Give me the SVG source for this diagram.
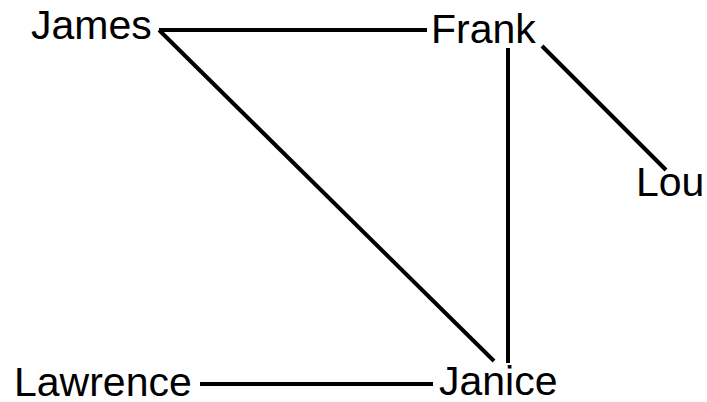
<svg xmlns="http://www.w3.org/2000/svg" width="707" height="402" viewBox="0 0 707 402">
<style>
text{font-family:"Liberation Sans",Arial,sans-serif;font-size:41px;fill:#000}
.e{stroke:#000;stroke-width:4;fill:none}
</style>
<rect width="707" height="402" fill="#fff"/>
<g id="edges">
<line class="e" x1="159" y1="30" x2="427" y2="30"/>
<line class="e" x1="159" y1="30" x2="494" y2="361"/>
<line class="e" x1="508" y1="48" x2="508" y2="363"/>
<line class="e" x1="542" y1="46" x2="666" y2="170"/>
<line class="e" x1="200" y1="384" x2="433" y2="384"/>
</g>
<g id="James"><text x="31" y="39">James</text></g>
<g id="Frank"><text x="431" y="43">Frank</text></g>
<g id="Lou"><text x="636" y="196">Lou</text></g>
<g id="Lawrence"><text x="14" y="396">Lawrence</text></g>
<g id="Janice"><text x="439" y="395">Janice</text></g>
</svg>
